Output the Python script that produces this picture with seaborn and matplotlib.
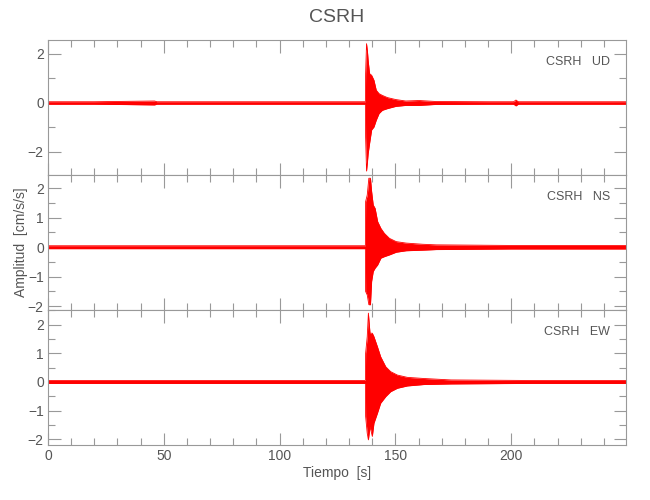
import matplotlib
matplotlib.use("Agg")
import matplotlib.pyplot as plt
import seaborn as sns
import numpy as np
from matplotlib.ticker import MultipleLocator

station = "CSRH"
components = ["UD", "NS", "EW"]

# envelope of each trace: time [s], upper and lower amplitude [cm/s/s]
t_ud = [0, 20, 46, 47, 80, 110, 137.0, 137.1, 137.5, 137.9, 138.2, 138.8, 139.7, 140.7, 141.7,
        142.9, 144.3, 146.5, 150.1, 154.4, 160.2, 167.4, 190, 201, 202, 203, 230, 250]
up_ud = [0.05, 0.05, 0.08, 0.05, 0.05, 0.05, 0.05, 1.2, 2.42, 2.1, 1.74, 1.2, 1.13, 0.93, 0.52,
         0.38, 0.31, 0.22, 0.14, 0.08, 0.1, 0.06, 0.05, 0.05, 0.12, 0.05, 0.05, 0.05]
lo_ud = [-0.05, -0.05, -0.08, -0.05, -0.05, -0.05, -0.05, -1.4, -2.78, -2.4, -2.07, -1.66, -1.1, -0.98, -0.7,
         -0.43, -0.3, -0.23, -0.14, -0.1, -0.1, -0.06, -0.05, -0.05, -0.12, -0.05, -0.05, -0.05]

t_ns = [0, 40, 80, 120, 137.0, 137.1, 137.8, 138.5, 139.2, 139.7, 140.4, 141.2, 142.3, 143.7,
        145.2, 147.4, 150.3, 154.6, 161.8, 167.6, 200, 250]
up_ns = [0.05, 0.05, 0.05, 0.05, 0.05, 1.55, 1.77, 2.34, 2.34, 1.89, 1.43, 1.32, 0.87, 0.64,
         0.47, 0.3, 0.19, 0.14, 0.1, 0.08, 0.06, 0.06]
lo_ns = [-0.05, -0.05, -0.05, -0.05, -0.05, -1.5, -1.62, -1.95, -1.95, -1.16, -0.82, -0.71, -0.6, -0.37,
         -0.32, -0.26, -0.17, -0.12, -0.1, -0.08, -0.06, -0.06]

t_ew = [0, 40, 80, 120, 137.0, 137.1, 137.8, 138.3, 139.0, 140.0, 140.7, 142.2, 143.6, 145.8,
        147.9, 150.8, 155.1, 162.3, 174, 210, 250]
up_ew = [0.05, 0.05, 0.05, 0.05, 0.05, 1.0, 1.58, 2.4, 1.7, 1.7, 1.58, 1.23, 0.88, 0.53,
         0.36, 0.24, 0.16, 0.12, 0.07, 0.05, 0.05]
lo_ew = [-0.05, -0.05, -0.05, -0.05, -0.05, -1.2, -1.79, -2.02, -1.56, -1.9, -1.44, -1.09, -0.74, -0.51,
         -0.34, -0.22, -0.14, -0.09, -0.07, -0.05, -0.05]

traces = [(t_ud, up_ud, lo_ud), (t_ns, up_ns, lo_ns), (t_ew, up_ew, lo_ew)]
ylims = [(-2.94, 2.57), (-2.13, 2.45), (-2.2, 2.51)]
ymajor = [2, 1, 1]

sns.set_theme(style="ticks")
plt.rcParams["font.family"] = ["Liberation Sans", "DejaVu Sans"]
grey = "#999999"
txt = "#555555"

fig = plt.figure(figsize=(6.5, 5), dpi=100)
left, width = 48 / 650, 578 / 650
bottoms = [0.65, 0.38, 0.11]
h = 0.27

for i, comp in enumerate(components):
    ax = fig.add_axes([left, bottoms[i], width, h])
    t, up, lo = traces[i]
    ax.fill_between(t, lo, up, color="red", lw=0)
    sns.lineplot(x=t, y=up, ax=ax, color="red", lw=0.6)
    sns.lineplot(x=t, y=lo, ax=ax, color="red", lw=0.6)
    ax.axhline(0, color="red", lw=1.0)
    ax.set_xlim(0, 249.5)
    ax.set_ylim(*ylims[i])
    ax.xaxis.set_major_locator(MultipleLocator(50))
    ax.xaxis.set_minor_locator(MultipleLocator(10))
    ax.yaxis.set_major_locator(MultipleLocator(ymajor[i]))
    ax.yaxis.set_minor_locator(MultipleLocator(ymajor[i] / 2))
    ax.tick_params(which="both", direction="in", top=True, right=True, colors=grey,
                   labelcolor=txt, labelsize=10, width=0.8, pad=3)
    ax.tick_params(which="major", length=9)
    ax.tick_params(which="minor", length=5)
    for s in ax.spines.values():
        s.set_color(grey)
        s.set_linewidth(0.8)
    if i < 2:
        ax.set_xticklabels([])
    ax.text(0.972, 0.84, station + "   " + comp, transform=ax.transAxes,
            ha="right", va="center", fontsize=9, color=txt)
    if i == 1:
        ax.set_ylabel("Amplitud  [cm/s/s]", color=txt, fontsize=10)
        ax.yaxis.set_label_coords(-0.035, 0.5)
    if i == 2:
        ax.set_xlabel("Tiempo  [s]", color=txt, fontsize=10, labelpad=2)

fig.text(337 / 650, 1 - 18 / 500, station, ha="center", va="center", fontsize=14, color=txt)

fig.savefig("out.png", dpi=100)
